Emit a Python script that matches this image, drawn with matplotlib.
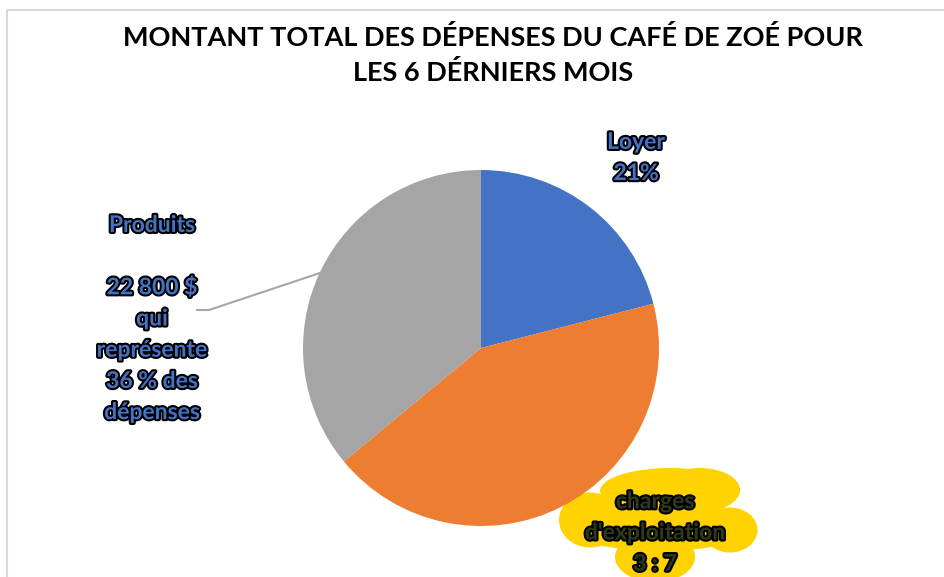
import matplotlib
matplotlib.use("Agg")
import matplotlib.pyplot as plt
import matplotlib.patheffects as pe
from matplotlib.patches import Ellipse, Rectangle

# Data
categories = ["Loyer", "charges d'exploitation", "Produits"]
shares = [21, 43, 36]
colors = ["#4472C4", "#ED7D31", "#A5A5A5"]
produits_amount = "22 800 $"
title = "MONTANT TOTAL DES DÉPENSES DU CAFÉ DE ZOÉ POUR\nLES 6 DÉRNIERS MOIS"

W, H = 944, 577
fig = plt.figure(figsize=(W / 100, H / 100), dpi=100)
fig.patch.set_facecolor("white")

# overlay in pixel coords for frame, labels, highlight
bg = fig.add_axes([0, 0, 1, 1])
bg.set_xlim(0, W)
bg.set_ylim(H, 0)
bg.axis("off")
bg.add_patch(Rectangle((6.5, 9.5), 1000, 1000, fill=False, edgecolor="#D9D9D9", lw=1.5))

# pie axes, centre (481, 348), radius 178 px
cx, cy, r = 481, 348, 178
ax = fig.add_axes([(cx - r) / W, 1 - (cy + r) / H, 2 * r / W, 2 * r / H])
ax.pie(shares, colors=colors, startangle=90, counterclock=False, radius=1)
ax.set_xlim(-1, 1)
ax.set_ylim(-1, 1)
ax.axis("off")

# title
bg.text(493, 55, title, ha="center", va="center", fontsize=19.5, fontweight="bold",
        family="Lato", color="black", linespacing=1.46)

font = dict(family="Lato", fontweight="bold", fontsize=16.5, ha="center", va="center")
outline = [pe.withStroke(linewidth=3, foreground="black")]

# Loyer label
bg.text(636, 158, f"{categories[0]}\n{shares[0]}%", color="#4472C4",
        linespacing=1.6, path_effects=outline, **font)

# Produits label with leader line
bg.plot([197, 209, 320], [310, 310, 273], color="#A6A6A6", lw=1.5)
bg.text(152, 319, f"{categories[2]}\n\n{produits_amount}\nqui\nreprésente\n{shares[2]} % des\ndépenses",
        color="#4472C4", linespacing=1.6, path_effects=outline, **font)

# yellow highlighter blob
for (ex, ey, ew, eh) in [(670, 491, 140, 46), (660, 526, 190, 50), (590, 520, 62, 55),
                         (730, 530, 55, 45), (655, 557, 80, 50), (700, 490, 80, 44)]:
    bg.add_patch(Ellipse((ex, ey), ew, eh, color="#FFD200", lw=0))

bg.text(655, 533, "charges\nd'exploitation\n3 : 7", color="#2E3A1A",
        linespacing=1.6, path_effects=outline, **font)

fig.savefig("out.png", dpi=100)
